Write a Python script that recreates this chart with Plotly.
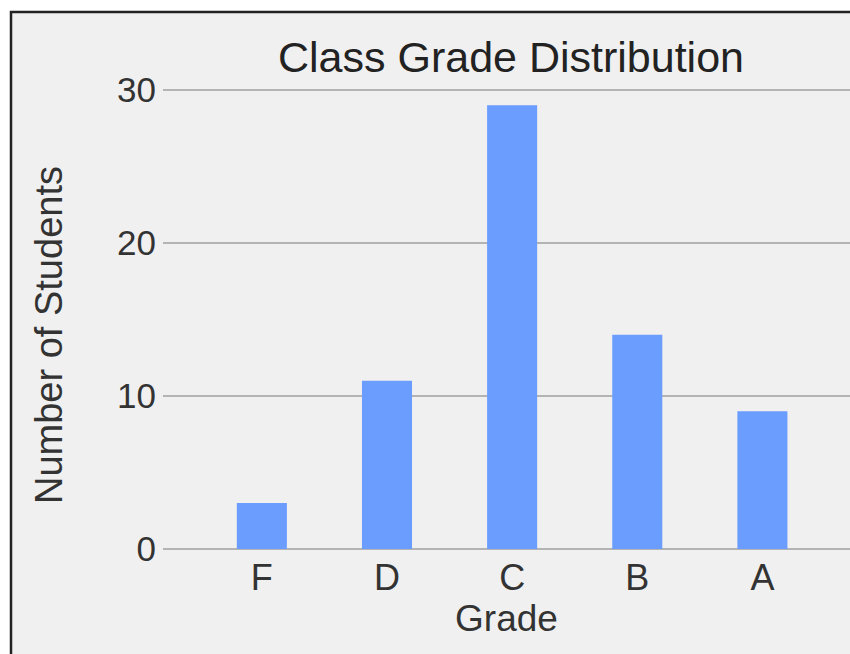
import plotly.graph_objects as go

# Grade counts for the class
grades = ["F", "D", "C", "B", "A"]
students = [3, 11, 29, 14, 9]
y_ticks = [0, 10, 20, 30]

W, H = 850, 654
Y_RANGE = [-0.2, 30.2]
# pixel rows of the 0 and 30 gridlines
Y0_PX, Y30_PX = 549, 90
px_per_unit = (Y0_PX - Y30_PX) / 30.0

M_L, M_R = 163, 0
M_T = Y30_PX - (Y_RANGE[1] - 30) * px_per_unit
M_B = H - Y0_PX - (0 - Y_RANGE[0]) * px_per_unit
plot_w = W - M_L - M_R
plot_h = H - M_T - M_B


def px_to_paper_x(px):
    return (px - M_L) / plot_w


def px_to_paper_y(py):
    return (H - M_B - py) / plot_h


font_family = "Liberation Sans, Arial, sans-serif"
text_color = "#333333"

fig = go.Figure(
    go.Bar(
        x=grades,
        y=students,
        width=0.4,
        marker=dict(color="#6b9dfe", line=dict(width=0)),
    )
)

# Gray panel with a dark frame on its left and top edges
fig.add_shape(
    type="rect",
    xref="paper", yref="paper",
    x0=px_to_paper_x(11), x1=px_to_paper_x(W + 20),
    y0=px_to_paper_y(H + 20), y1=px_to_paper_y(12),
    fillcolor="#f0f0f0",
    line=dict(color="#222222", width=2.5),
    layer="below",
)

# Vertical axis title
fig.add_annotation(
    text="Number of Students",
    xref="paper", yref="paper",
    x=px_to_paper_x(49), y=px_to_paper_y(335),
    xanchor="center", yanchor="middle",
    textangle=-90, showarrow=False,
    font=dict(size=38, color=text_color),
)

fig.update_layout(
    width=W,
    height=H,
    margin=dict(l=M_L, r=M_R, t=M_T, b=M_B, pad=0),
    paper_bgcolor="white",
    plot_bgcolor="rgba(0,0,0,0)",
    showlegend=False,
    font=dict(family=font_family, color=text_color, size=36),
    title=dict(
        text="Class Grade Distribution",
        x=511 / W, xanchor="center", xref="container",
        y=1 - 57 / H, yanchor="middle", yref="container",
        font=dict(size=43, color="#222222"),
    ),
    xaxis=dict(
        type="category",
        range=[-0.79, 4.7],
        showgrid=False,
        zeroline=False,
        showline=False,
        ticks="",
        ticklabelstandoff=1,
        tickfont=dict(size=36),
        title=dict(text="Grade", standoff=0, font=dict(size=37)),
        fixedrange=True,
    ),
    yaxis=dict(
        range=Y_RANGE,
        tickvals=y_ticks,
        showgrid=True,
        gridcolor="#b4b4b4",
        gridwidth=2,
        zeroline=False,
        showline=False,
        ticks="",
        ticklabelstandoff=6,
        tickfont=dict(size=35),
        fixedrange=True,
    ),
)

fig.write_html("out.html")
